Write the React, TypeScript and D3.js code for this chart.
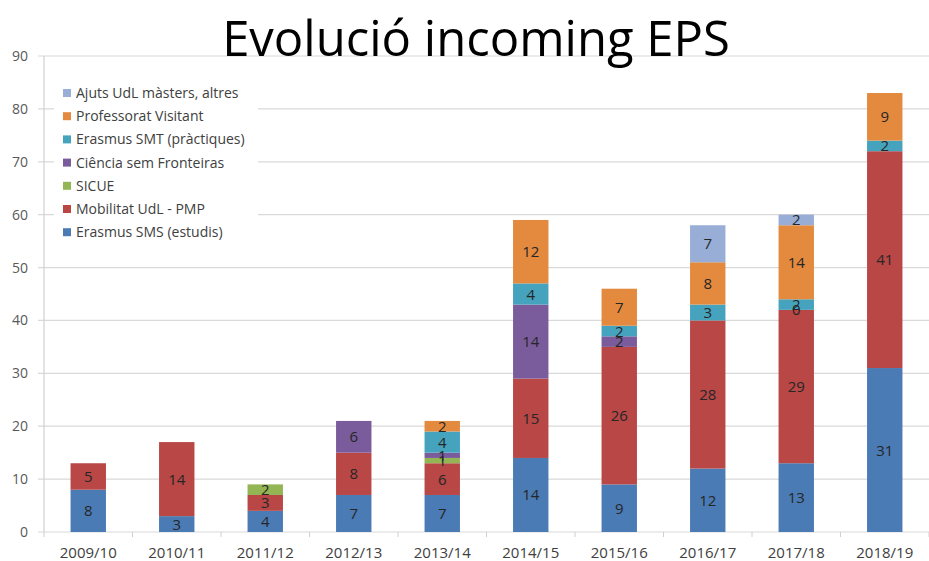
import React, { useEffect, useRef } from "react";
import * as d3 from "d3";

const years = ["2009/10", "2010/11", "2011/12", "2012/13", "2013/14", "2014/15", "2015/16", "2016/17", "2017/18", "2018/19"];

// stacked bottom -> top
const seriesNames = [
  "Erasmus SMS (estudis)",
  "Mobilitat UdL - PMP",
  "SICUE",
  "Ciência sem Fronteiras",
  "Erasmus SMT (pràctiques)",
  "Professorat Visitant",
  "Ajuts UdL màsters, altres",
];
const erasmusSMS = [8, 3, 4, 7, 7, 14, 9, 12, 13, 31];
const mobilitat = [5, 14, 3, 8, 6, 15, 26, 28, 29, 41];
const sicue = [0, 0, 2, 0, 1, 0, 0, 0, 0, 0];
const ciencia = [0, 0, 0, 6, 1, 14, 2, 0, 0, 0];
const erasmusSMT = [0, 0, 0, 0, 4, 4, 2, 3, 2, 2];
const professorat = [0, 0, 0, 0, 2, 12, 7, 8, 14, 9];
const ajuts = [0, 0, 0, 0, 0, 0, 0, 7, 2, 0];
// the 2017/18 "0" label that Excel prints for Ciência sem Fronteiras
const zeroLabels = [{ year: "2017/18", series: 3 }];

const colors = ["#4A7BB5", "#B84746", "#93B553", "#7A5C9C", "#45A3BE", "#E38A3E", "#98AED6"];

export default function App() {
  const ref = useRef<SVGSVGElement>(null);

  useEffect(() => {
    const width = 929;
    const height = 561;
    const svg = d3.select(ref.current);
    svg.selectAll("*").remove();

    const margin = { top: 56, right: 0, bottom: 29, left: 44 };
    const values = [erasmusSMS, mobilitat, sicue, ciencia, erasmusSMT, professorat, ajuts];
    const rows = years.map((y, i) => {
      const r: any = { year: y };
      seriesNames.forEach((s, j) => (r[s] = values[j][i]));
      return r;
    });

    const x = d3.scaleBand().domain(years).range([margin.left, width - margin.right]).paddingInner(0.6).paddingOuter(0.3);
    const y = d3.scaleLinear().domain([0, 90]).range([height - margin.bottom, margin.top]);

    const stack = d3.stack<any>().keys(seriesNames);
    const layers = stack(rows);

    // gridlines
    svg.append("g")
      .selectAll("line")
      .data(y.ticks(9))
      .enter()
      .append("line")
      .attr("x1", margin.left - 6)
      .attr("x2", width - margin.right)
      .attr("y1", (d) => y(d))
      .attr("y2", (d) => y(d))
      .attr("stroke", "#d9d9d9")
      .attr("stroke-width", 1.2);

    svg.append("line")
      .attr("x1", margin.left).attr("x2", margin.left)
      .attr("y1", y(90)).attr("y2", y(0))
      .attr("stroke", "#d0d0d0").attr("stroke-width", 1.2);

    svg.append("g")
      .selectAll("text")
      .data(y.ticks(9))
      .enter()
      .append("text")
      .attr("x", 28)
      .attr("y", (d) => y(d) + 5)
      .attr("text-anchor", "end")
      .style("font-family", "'Open Sans', sans-serif")
      .style("font-size", "14px")
      .style("fill", "#595959")
      .text((d) => d);

    // x tick marks between categories
    const xStart = margin.left;
    const catW = (width - margin.left - margin.right) / years.length;
    svg.append("g")
      .selectAll("line")
      .data(d3.range(years.length + 1))
      .enter()
      .append("line")
      .attr("x1", (i) => xStart + i * catW)
      .attr("x2", (i) => xStart + i * catW)
      .attr("y1", y(0))
      .attr("y2", y(0) + 5)
      .attr("stroke", "#d0d0d0");

    svg.append("g")
      .selectAll("text")
      .data(years)
      .enter()
      .append("text")
      .attr("x", (d) => (x(d) as number) + x.bandwidth() / 2)
      .attr("y", y(0) + 26)
      .attr("text-anchor", "middle")
      .style("font-family", "'Open Sans', sans-serif")
      .style("font-size", "15px")
      .style("fill", "#404040")
      .text((d) => d);

    // bars
    layers.forEach((layer, j) => {
      const g = svg.append("g");
      layer.forEach((seg) => {
        const v = seg[1] - seg[0];
        if (v <= 0) return;
        g.append("rect")
          .attr("x", x(seg.data.year) as number)
          .attr("width", x.bandwidth())
          .attr("y", y(seg[1]))
          .attr("height", y(seg[0]) - y(seg[1]))
          .attr("fill", colors[j]);
      });
    });

    // value labels
    layers.forEach((layer, j) => {
      layer.forEach((seg) => {
        const v = seg[1] - seg[0];
        const isZero = zeroLabels.some((z) => z.year === seg.data.year && z.series === j);
        if (v <= 0 && !isZero) return;
        svg.append("text")
          .attr("x", (x(seg.data.year) as number) + x.bandwidth() / 2)
          .attr("y", y((seg[0] + seg[1]) / 2) + 5.5)
          .attr("text-anchor", "middle")
          .style("font-family", "'Open Sans', sans-serif")
          .style("font-size", "15px")
          .style("fill", "#262626")
          .text(v);
      });
    });

    // legend
    const legend = svg.append("g");
    legend.append("rect")
      .attr("x", 54).attr("y", 80).attr("width", 204).attr("height", 166)
      .attr("fill", "#fff");
    const items = seriesNames.slice().reverse();
    items.forEach((name, i) => {
      const idx = seriesNames.indexOf(name);
      const yy = 93 + i * 23.2;
      legend.append("rect")
        .attr("x", 63).attr("y", yy - 4).attr("width", 8).attr("height", 8)
        .attr("fill", colors[idx]);
      legend.append("text")
        .attr("x", 76).attr("y", yy + 5)
        .style("font-family", "'Open Sans', sans-serif")
        .style("font-size", "14px")
        .style("fill", "#404040")
        .text(name);
    });

    svg.append("text")
      .attr("x", 476)
      .attr("y", 56)
      .attr("text-anchor", "middle")
      .style("font-family", "'Open Sans', sans-serif")
      .style("font-size", "49px")
      .style("fill", "#000")
      .text("Evolució incoming EPS");
  }, []);

  return (
    <svg
      ref={ref}
      width={929}
      height={561}
      style={{ position: "absolute", left: 0, top: 0, background: "#fff" }}
    />
  );
}
